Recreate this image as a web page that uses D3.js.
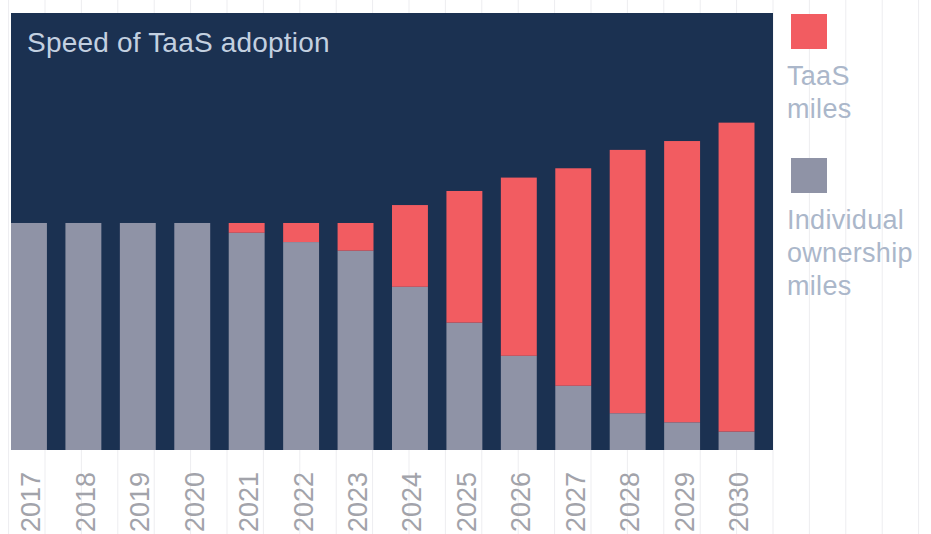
<!DOCTYPE html>
<html>
<head>
<meta charset="utf-8">
<script src="https://cdn.jsdelivr.net/npm/d3@7"></script>
<style>
  html, body { margin: 0; padding: 0; background: #ffffff; }
  svg { display: block; }
  text { font-family: "Liberation Sans", Arial, Helvetica, sans-serif; }
</style>
</head>
<body>
<svg id="chart" width="931" height="534"></svg>
<script>
// Vehicle miles travelled, indexed to 2017 = 100
const years = ["2017","2018","2019","2020","2021","2022","2023","2024","2025","2026","2027","2028","2029","2030"];
const individualMiles = [100, 100, 100, 100, 95.7, 91.6, 87.8, 71.9, 56.1, 41.5, 28.3, 16.2, 12.2, 8.1];
const taasMiles = [0, 0, 0, 0, 4.3, 8.4, 12.2, 36.0, 58.0, 78.5, 95.8, 116.0, 123.9, 136.1];
const seriesKeys = ["individual", "taas"];
const seriesLabels = {
  taas: ["TaaS", "miles"],
  individual: ["Individual", "ownership", "miles"]
};
const chartTitle = "Speed of TaaS adoption";
const yMax = 192.5;

const colors = { taas: "#f25c61", individual: "#8f93a6" };

const svg = d3.select("#chart");
const W = 931, H = 534;
const panel = { left: 11, right: 773, top: 13, bottom: 450 };

// faint page grid behind everything
const gridStep = 36.4;
const gridXs = d3.range(panel.right, 0, -gridStep).concat(d3.range(panel.right + gridStep, W, gridStep));
svg.append("g")
  .selectAll("line")
  .data(gridXs)
  .join("line")
  .attr("x1", d => d).attr("x2", d => d)
  .attr("y1", 0).attr("y2", H)
  .attr("stroke", "#ededf0")
  .attr("stroke-width", 1);

// dark panel
svg.append("rect")
  .attr("x", panel.left).attr("y", panel.top)
  .attr("width", panel.right - panel.left)
  .attr("height", panel.bottom - panel.top)
  .attr("fill", "#1b3151");

const x = d3.scaleBand()
  .domain(years)
  .range([panel.left, panel.right])
  .paddingInner(0.34)
  .paddingOuter(0.17)
  .align(0);

const y = d3.scaleLinear()
  .domain([0, yMax])
  .range([panel.bottom, panel.top]);

const table = years.map((yr, i) => ({ year: yr, individual: individualMiles[i], taas: taasMiles[i] }));
const stacked = d3.stack().keys(seriesKeys)(table);

svg.append("g")
  .selectAll("g")
  .data(stacked)
  .join("g")
  .attr("fill", d => colors[d.key])
  .selectAll("rect")
  .data(d => d)
  .join("rect")
  .attr("x", d => x(d.data.year))
  .attr("width", x.bandwidth())
  .attr("y", d => y(d[1]))
  .attr("height", d => Math.max(0, y(d[0]) - y(d[1])));

// title inside the panel
svg.append("text")
  .attr("x", 27).attr("y", 52)
  .attr("fill", "#c3d0e0")
  .attr("font-size", 28)
  .attr("letter-spacing", 0.2)
  .text(chartTitle);

// rotated year labels
const xAxis = d3.axisBottom(x).tickSize(0).tickPadding(0);
const axisG = svg.append("g")
  .attr("transform", `translate(0,${panel.bottom})`)
  .call(xAxis);
axisG.select(".domain").remove();
axisG.selectAll(".tick text")
  .attr("font-family", null)
  .attr("font-size", 27)
  .attr("fill", "#a2a3aa")
  .attr("dy", null)
  .attr("y", 0)
  .attr("text-anchor", "end")
  .attr("transform", `translate(11.5,22) rotate(-90)`);

// legend
const legend = svg.append("g").attr("transform", "translate(791,0)");
const legendItems = [
  { key: "taas", top: 14 },
  { key: "individual", top: 158 }
];
legendItems.forEach(item => {
  legend.append("rect")
    .attr("x", 0).attr("y", item.top)
    .attr("width", 36).attr("height", 35)
    .attr("fill", colors[item.key]);
  const t = legend.append("text")
    .attr("x", -4)
    .attr("y", item.top + 71)
    .attr("fill", "#abb7ca")
    .attr("font-size", 27)
    .attr("letter-spacing", 0.3);
  seriesLabels[item.key].forEach((line, j) => {
    t.append("tspan").attr("x", -4).attr("dy", j === 0 ? 0 : 33).text(line);
  });
});
</script>
</body>
</html>
